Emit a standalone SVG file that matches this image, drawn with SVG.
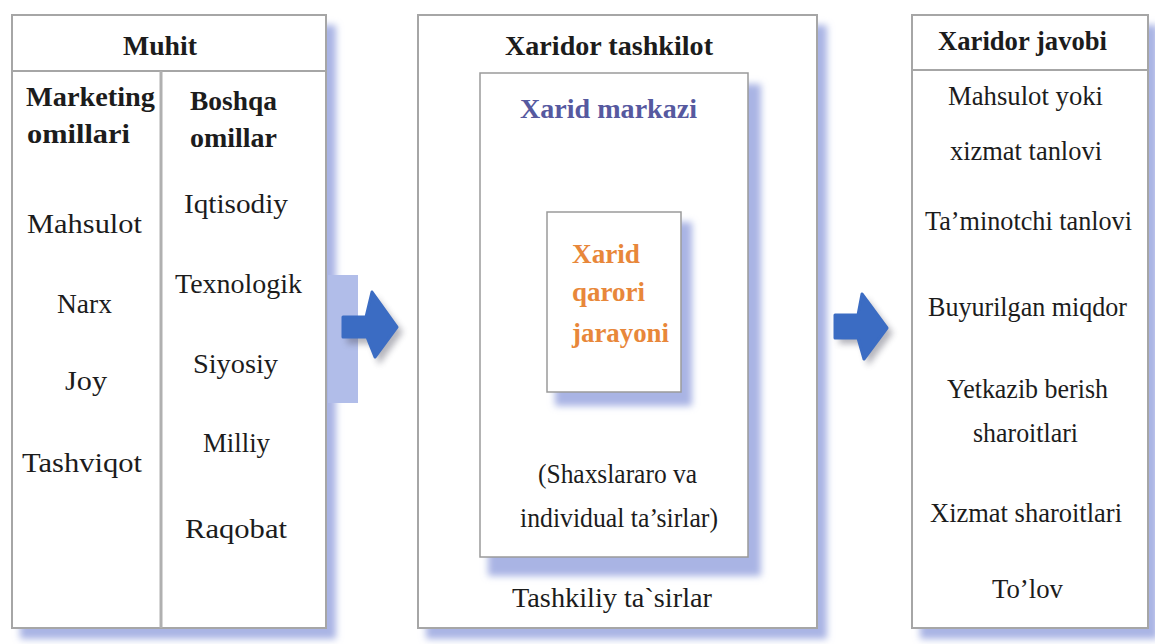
<svg xmlns="http://www.w3.org/2000/svg" width="1155" height="644" viewBox="0 0 1155 644">
  <defs>
    <filter id="soft" x="-20%" y="-20%" width="140%" height="140%">
      <feGaussianBlur stdDeviation="3.5"/>
    </filter>
    <filter id="softer" x="-50%" y="-50%" width="200%" height="200%">
      <feGaussianBlur stdDeviation="3"/>
    </filter>
  </defs>
  <style>
    .box { fill: #ffffff; stroke: #a6a6a6; stroke-width: 2; }
    .inner { fill: #ffffff; stroke: #9a9a9a; stroke-width: 1.5; }
    .rule { stroke: #a6a6a6; stroke-width: 2; }
    .divider { stroke: #b0b0b0; stroke-width: 3; }
    .shadow { fill: #a9b4e4; filter: url(#soft); }
    .t { font-size: 28px; fill: #1c1c1c; }
    .b { font-weight: bold; }
    .blue { fill: #56599f; }
    .orange { fill: #e8873a; }
    .arrow { fill: #3b6cc3; stroke: #3b6cc3; stroke-width: 3; stroke-linejoin: round; }
    .arrowShadow { fill: #5a5a6a; opacity: 0.45; filter: url(#softer); }
  </style>

  <rect width="1155" height="644" fill="#ffffff"/>

  <g font-family="'Liberation Serif', 'Times New Roman', Times, serif">
  <!-- Environment: marketing and other factors -->
  <g id="node-muhit">
    <rect class="shadow" x="20" y="25" width="316" height="614"/>
    <rect class="box" x="12" y="15" width="314" height="613"/>
    <line class="rule" x1="12" y1="71" x2="326" y2="71"/>
    <line class="divider" x1="161" y1="71" x2="161" y2="628"/>
    <text class="t b" x="123" y="55" textLength="74" lengthAdjust="spacingAndGlyphs">Muhit</text>
    <text class="t b" x="26" y="106" textLength="129" lengthAdjust="spacingAndGlyphs">Marketing</text>
    <text class="t b" x="27" y="143" textLength="103" lengthAdjust="spacingAndGlyphs">omillari</text>
    <text class="t b" x="190" y="110" textLength="87" lengthAdjust="spacingAndGlyphs">Boshqa</text>
    <text class="t b" x="190" y="147" textLength="87" lengthAdjust="spacingAndGlyphs">omillar</text>
    <text class="t" x="27" y="233" textLength="115" lengthAdjust="spacingAndGlyphs">Mahsulot</text>
    <text class="t" x="57" y="313" textLength="55" lengthAdjust="spacingAndGlyphs">Narx</text>
    <text class="t" x="65" y="390" textLength="42" lengthAdjust="spacingAndGlyphs">Joy</text>
    <text class="t" x="22" y="472" textLength="120" lengthAdjust="spacingAndGlyphs">Tashviqot</text>
    <text class="t" x="184" y="213" textLength="104" lengthAdjust="spacingAndGlyphs">Iqtisodiy</text>
    <text class="t" x="175" y="293" textLength="127" lengthAdjust="spacingAndGlyphs">Texnologik</text>
    <text class="t" x="193" y="373" textLength="85" lengthAdjust="spacingAndGlyphs">Siyosiy</text>
    <text class="t" x="203" y="452" textLength="67" lengthAdjust="spacingAndGlyphs">Milliy</text>
    <text class="t" x="185" y="538" textLength="102" lengthAdjust="spacingAndGlyphs">Raqobat</text>
  </g>

  <!-- Buying organisation -->
  <g id="node-xaridor-tashkilot">
    <rect class="shadow" x="426" y="25" width="401" height="614"/>
    <rect class="box" x="418" y="15" width="399" height="613"/>
    <text class="t b" x="505" y="55" textLength="208" lengthAdjust="spacingAndGlyphs">Xaridor tashkilot</text>
    <text class="t" x="512" y="607" textLength="200" lengthAdjust="spacingAndGlyphs">Tashkiliy ta`sirlar</text>
  </g>

  <!-- Buying centre -->
  <g id="node-xarid-markazi">
    <rect class="shadow" x="488" y="84" width="273" height="492"/>
    <rect class="inner" x="480" y="73" width="268" height="484"/>
    <text class="t b blue" x="520" y="118" textLength="177" lengthAdjust="spacingAndGlyphs">Xarid markazi</text>
    <text class="t" x="538" y="483" textLength="159" lengthAdjust="spacingAndGlyphs">(Shaxslararo va</text>
    <text class="t" x="520" y="527" textLength="198" lengthAdjust="spacingAndGlyphs">individual ta’sirlar)</text>
  </g>

  <!-- Purchase decision process -->
  <g id="node-xarid-qarori">
    <rect class="shadow" x="555" y="222" width="137" height="184"/>
    <rect class="inner" x="547" y="212" width="134" height="180"/>
    <text class="t b orange" x="572" y="263" textLength="68" lengthAdjust="spacingAndGlyphs">Xarid</text>
    <text class="t b orange" x="572" y="301" textLength="73" lengthAdjust="spacingAndGlyphs">qarori</text>
    <text class="t b orange" x="572" y="342" textLength="97" lengthAdjust="spacingAndGlyphs">jarayoni</text>
  </g>

  <!-- Buyer response -->
  <g id="node-xaridor-javobi">
    <rect class="shadow" x="920" y="25" width="238" height="614"/>
    <rect class="box" x="912" y="15" width="236" height="613"/>
    <line class="rule" x1="912" y1="70" x2="1148" y2="70"/>
    <text class="t b" x="938" y="50" textLength="169" lengthAdjust="spacingAndGlyphs">Xaridor javobi</text>
    <text class="t" x="948" y="105" textLength="155" lengthAdjust="spacingAndGlyphs">Mahsulot yoki</text>
    <text class="t" x="950" y="160" textLength="152" lengthAdjust="spacingAndGlyphs">xizmat tanlovi</text>
    <text class="t" x="925" y="230" textLength="207" lengthAdjust="spacingAndGlyphs">Ta’minotchi tanlovi</text>
    <text class="t" x="928" y="316" textLength="199" lengthAdjust="spacingAndGlyphs">Buyurilgan miqdor</text>
    <text class="t" x="947" y="398" textLength="161" lengthAdjust="spacingAndGlyphs">Yetkazib berish</text>
    <text class="t" x="973" y="442" textLength="105" lengthAdjust="spacingAndGlyphs">sharoitlari</text>
    <text class="t" x="930" y="522" textLength="192" lengthAdjust="spacingAndGlyphs">Xizmat sharoitlari</text>
    <text class="t" x="992" y="598" textLength="71" lengthAdjust="spacingAndGlyphs">To’lov</text>
  </g>
  </g>

  <!-- Flow arrows between the stages -->
  <g id="connectors">
    <rect x="328" y="275" width="30" height="128" fill="#b1bde9"/>
    <path class="arrowShadow" d="M347,322 H370 L376,297 L403,332 L379,365 L372,344 H347 Z"/>
    <path class="arrow" d="M343,317 H366 L372,292 L397,327 L375,357 L367,337 H343 Z"/>
    <path class="arrowShadow" d="M839,321 H862 L866,298 L893,333 L868,366 L862,344 H839 Z"/>
    <path class="arrow" d="M835,315 H858 L862,294 L887,328 L864,359 L858,338 H835 Z"/>
  </g>
</svg>
